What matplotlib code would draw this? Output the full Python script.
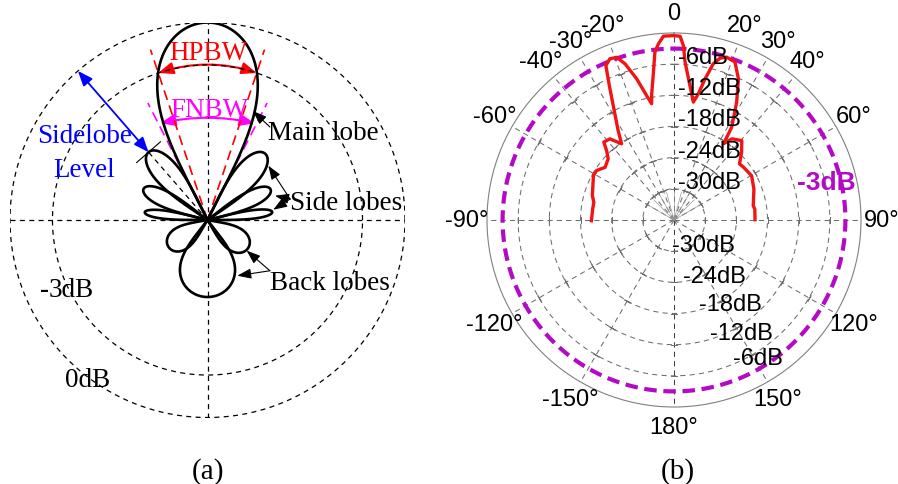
import numpy as np
import matplotlib
matplotlib.use('Agg')
import matplotlib.pyplot as plt
from matplotlib.patches import FancyArrowPatch
from matplotlib import transforms

# ---------------- (a) schematic radiation pattern ----------------
# lobe direction (deg from boresight), peak radius (0dB circle = 1),
# half width at the nulls (deg) and roundness of each lobe
lobe_dir = [0, -41, 41, -64, 64, -83, 83, 180, -125, 125]
lobe_peak = [1.0, 0.455, 0.445, 0.36, 0.355, 0.32, 0.33, 0.39, 0.24, 0.25]
lobe_halfwidth = [27, 15, 15, 12, 12, 7, 7, 38, 25, 25]
lobe_shape = [0.32, 0.35, 0.35, 0.35, 0.35, 0.35, 0.35, 0.3, 0.3, 0.3]

ring_names = ['0dB', '-3dB']
ring_radius = [1.0, 0.785]
hpbw_half = 18.5   # deg, -3dB points of the main lobe
fnbw_half = 27.0   # deg, first nulls

# ---------------- (b) measured pattern ----------------
theta_meas = [-90.5, -82.3, -77.5, -73.4, -61.2, -57.5, -52.6, -47.1, -44.2, -42.0,
              -38.3, -34.5, -32.0, -28.0, -25.7, -23.8, -21.7, -19.4, -17.4, -14.8,
              -12.4, -10.9, -10.0, -8.2, -6.5, -5.1, -3.3, -0.2, 1.9, 3.1,
              4.0, 6.3, 9.3, 10.9, 12.4, 14.1, 15.9, 17.9, 21.1, 24.5,
              28.0, 31.9, 33.0, 35.5, 40.5, 45.0, 49.4, 52.7, 60.3, 68.8,
              79.8, 82.3, 89.8]
gain_meas = [-20.1, -20.2, -20.2, -19.6, -18.3, -18.3, -19.3, -18.7, -17.4, -15.8,
             -16.1, -18.2, -15.7, -11.1, -7.3, -3.5, -2.6, -2.8, -4.5, -7.9,
             -11.5, -13.2, -11.3, -7.9, -3.5, -2.0, -0.55, -0.5, -0.6, -2.4,
             -5.5, -9.3, -13.0, -11.3, -8.2, -5.0, -3.6, -3.05, -3.4, -6.1,
             -10.3, -15.0, -18.5, -16.8, -15.9, -17.6, -19.4, -19.2, -18.8, -19.5,
             -20.5, -20.3, -20.4]
ring_db = [-30, -24, -18, -12, -6]
angle_ticks = [0, 20, 30, 40, 60, 90, 120, 150, 180, -150, -120, -90, -60, -40, -30, -20]
angle_labels = ['0', '20°', '30°', '40°', '60°', '90°', '120°', '150°', '180°',
                '-150°', '-120°', '-90°', '-60°', '-40°', '-30°', '-20°']
ref_level = -3


fig = plt.figure(figsize=(8.98, 4.85), dpi=100)
serif = ['Liberation Serif', 'DejaVu Serif']
sans = ['Liberation Sans', 'DejaVu Sans']

# ---------- panel (a) ----------
ax1 = fig.add_axes([10 / 898, 66.5 / 485, 395 / 898, 395 / 485])
ax1.set_xlim(-1, 1)
ax1.set_ylim(-1, 1)
ax1.axis('off')

grid_dash = (0, (4, 3.5))
t = np.linspace(0, 2 * np.pi, 400)
for rr in ring_radius:
    ax1.plot(rr * np.cos(t), rr * np.sin(t), color='k', lw=0.9, ls=grid_dash)
ax1.plot([-1, 1], [0, 0], color='k', lw=0.9, ls=grid_dash)
ax1.plot([0, 0], [-1, 1], color='k', lw=0.9, ls=grid_dash)


def lobe_xy(c, hw, peak, p, n=300):
    d = np.linspace(-hw, hw, n)
    r = peak * np.clip(np.cos(np.pi / 2 * d / hw), 0, None) ** p
    a = np.radians(c + d)
    return r * np.sin(a), r * np.cos(a)


def pol(a, r):
    a = np.radians(a)
    return r * np.sin(a), r * np.cos(a)


# beamwidth guide lines
for s in (-1, 1):
    x, y = pol(s * hpbw_half, 0.91)
    ax1.plot([0, x], [0, y], color='red', lw=1.2, ls=(0, (6, 3.5)))
    x, y = pol(s * fnbw_half, 0.665)
    ax1.plot([0, x], [0, y], color='#ff00ff', lw=1.2, ls=(0, (6, 3.5)))

for c, pk, hw, p in zip(lobe_dir, lobe_peak, lobe_halfwidth, lobe_shape):
    x, y = lobe_xy(c, hw, pk, p)
    ax1.plot(x, y, color='k', lw=1.9, solid_joinstyle='round')

# HPBW / FNBW arcs
r3 = ring_radius[1]
a = FancyArrowPatch(pol(-hpbw_half, r3), pol(hpbw_half, r3),
                    arrowstyle='<|-|>,head_length=0.5,head_width=0.2',
                    connectionstyle='arc3,rad=%.3f' % -np.tan(np.radians(hpbw_half / 2)),
                    mutation_scale=18, color='red', lw=1.5, shrinkA=0, shrinkB=0)
ax1.add_patch(a)
a = FancyArrowPatch(pol(-26, 0.545), pol(26, 0.545),
                    arrowstyle='<|-|>,head_length=0.5,head_width=0.2',
                    connectionstyle='arc3,rad=-0.11',
                    mutation_scale=18, color='#ff00ff', lw=1.5, shrinkA=0, shrinkB=0)
ax1.add_patch(a)

# sidelobe level
sl_dir, sl_pk = lobe_dir[1], lobe_peak[1]
px, py = pol(sl_dir, sl_pk)
ax1.plot([0, px], [0, py], color='k', lw=0.9, ls=grid_dash)
tx, ty = pol(sl_dir + 90, 0.08)
ax1.plot([px - tx, px + tx], [py - ty, py + ty], color='k', lw=0.8)
ax1.add_patch(FancyArrowPatch(pol(sl_dir, 1.0), (px, py),
                              arrowstyle='<|-|>,head_length=0.5,head_width=0.2',
                              mutation_scale=18, color='blue', lw=1.3,
                              shrinkA=0, shrinkB=0))

fs_a = 19.5
ax1.text(0.003, 0.815, 'HPBW', color='red', fontsize=fs_a, family=serif,
         ha='center', va='baseline')
ax1.text(0.008, 0.527, 'FNBW', color='#ff00ff', fontsize=fs_a, family=serif,
         ha='center', va='baseline')
ax1.text(-0.625, 0.395, 'Sidelobe', color='blue', fontsize=fs_a, family=serif,
         ha='center', va='baseline')
ax1.text(-0.625, 0.223, 'Level', color='blue', fontsize=fs_a, family=serif,
         ha='center', va='baseline')
ax1.text(0.306, 0.410, 'Main lobe', fontsize=fs_a, family=serif, ha='left', va='baseline')
ax1.text(0.418, 0.056, 'Side lobes', fontsize=fs_a, family=serif, ha='left', va='baseline')
ax1.text(0.316, -0.349, 'Back lobes', fontsize=fs_a, family=serif, ha='left', va='baseline')
ax1.text(-0.848, -0.385, '-', fontsize=fs_a, family=serif, fontweight='bold',
         ha='left', va='baseline')
ax1.text(-0.805, -0.385, '3dB', fontsize=fs_a, family=serif, ha='left', va='baseline')
ax1.text(-0.722, -0.841, '0dB', fontsize=fs_a, family=serif, ha='left', va='baseline')

pointer = dict(arrowstyle='-|>,head_length=0.6,head_width=0.22', color='k', lw=0.8,
               mutation_scale=14, shrinkA=0, shrinkB=0)
ax1.annotate('', xy=(0.230, 0.552), xytext=(0.316, 0.471), arrowprops=pointer)
for hx, hy in [(0.308, 0.275), (0.342, 0.123), (0.333, 0.052)]:
    ax1.annotate('', xy=(hx, hy), xytext=(0.418, 0.106), arrowprops=pointer)
for hx, hy in [(0.198, -0.155), (0.151, -0.282)]:
    ax1.annotate('', xy=(hx, hy), xytext=(0.316, -0.257), arrowprops=pointer)

# ---------- panel (b) ----------
ax2 = fig.add_axes([487 / 898, 77 / 485, 374 / 898, 374 / 485], projection='polar')
ax2.set_theta_zero_location('N')
ax2.set_theta_direction(-1)
ax2.set_rlim(-36, 0)
ax2.grid(False)
ax2.set_xticks([])
ax2.set_yticks([])
ax2.spines['polar'].set_color('#808080')
ax2.spines['polar'].set_linewidth(0.8)

gcol = '#6e6e6e'
full = np.linspace(0, 2 * np.pi, 361)
for rv in ring_db:
    ax2.plot(full, np.full_like(full, rv), color=gcol, lw=0.75, ls=(0, (5, 4)))
for ang in angle_ticks:
    col = '#404040' if ang in (0, 180) else gcol
    ax2.plot([np.radians(ang)] * 2, [-36, 0], color=col, lw=0.75, ls=(0, (5, 4)))
    ax2.plot([np.radians(ang)] * len(ring_db), ring_db, ls='none', color=gcol,
             marker=(2, 2, -ang - 90), markersize=5, markeredgewidth=0.7)

# short rays around the origin
for ang in range(-60, 61, 15):
    ax2.plot([np.radians(ang)] * 2, [-36, -30.5], color='#9a9a9a', lw=0.5)

ax2.plot(full, np.full_like(full, ref_level), color='#b40ac8', lw=3,
         ls=(0, (3, 1.6)))
ax2.plot(np.radians(theta_meas), gain_meas, color='#f01414', lw=2.4,
         solid_joinstyle='round')

fs_b = 17
for ang, lab in zip(angle_ticks, angle_labels):
    ax2.text(np.radians(ang), 3.9, lab, fontsize=fs_b, family=sans,
             ha='center', va='center')

up = transforms.offset_copy(ax2.transData, fig=fig, x=4, y=1, units='dots')
for rv in ring_db:
    ax2.text(0, rv, '%ddB' % rv, transform=up, fontsize=fs_b, family=sans,
             ha='left', va='baseline')
low_pos = [183.6, 171.7, 164.2, 163.2, 157.7]
for rv, ang in zip(ring_db, low_pos):
    ax2.text(np.radians(ang), rv, '%ddB' % rv, fontsize=fs_b, family=sans,
             ha='left', va='baseline')
ax2.text(np.radians(76), -5.8, '%ddB' % ref_level, color='#b40ac8', fontsize=19,
         fontweight='bold', family=sans, ha='center', va='center')

fig.text(208 / 898, 6 / 485, '(a)', fontsize=21, family=serif, ha='center', va='baseline')
fig.text(678 / 898, 6 / 485, '(b)', fontsize=21, family=serif, ha='center', va='baseline')

fig.savefig('out.png', dpi=100)
